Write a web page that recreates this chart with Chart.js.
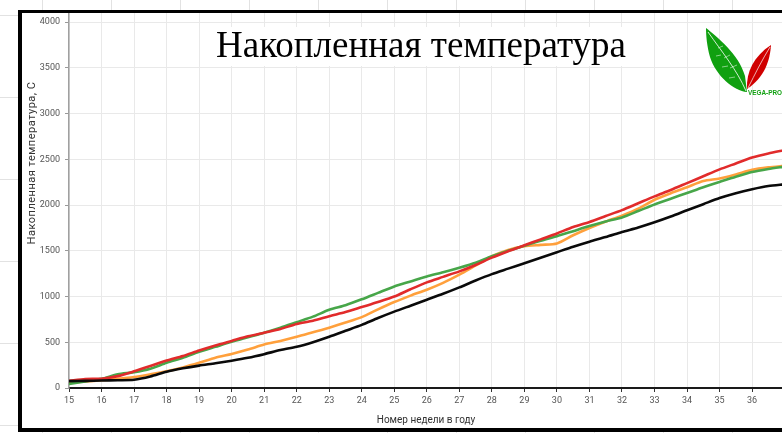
<!DOCTYPE html>
<html lang="ru">
<head>
<meta charset="UTF-8">
<title>Накопленная температура</title>
<script src="https://cdn.jsdelivr.net/npm/chart.js"></script>
<style>
  html, body { margin: 0; padding: 0; }
  body {
    width: 782px; height: 433px; overflow: hidden; position: relative;
    background-color: #fff;
    /* faint spreadsheet cells behind the picture */
    background-image:
      linear-gradient(to right, #e2e2e2 1px, transparent 1px),
      linear-gradient(to bottom, #e2e2e2 1px, transparent 1px);
    background-size: 69px 82px;
    background-position: 42px 15px;
  }
  #frame {
    position: absolute; left: 18px; top: 10px;
    width: 800px; height: 415px;
    border-left: 4px solid #000; border-top: 3px solid #000; border-bottom: 4px solid #000;
    background: #fff;
  }
  #wrap { position: relative; width: 761px; height: 415px; }
  #logo { position: absolute; left: 700px; top: 20px; width: 82px; height: 80px; }
</style>
</head>
<body>

<div id="frame"><div id="wrap"><canvas id="chart"></canvas></div></div>

<svg id="logo" viewBox="700 20 82 80" xmlns="http://www.w3.org/2000/svg">
  <!-- green leaf -->
  <path d="M706,28 C716,36 739,54 745,76 L747,92 C734,91 716,76 710,57 C707,46 706,36 706,28 Z" fill="#10a010"/>
  <path d="M708,32 C722,52 737,70 746,91" stroke="#e8f5e8" stroke-width="0.9" fill="none"/>
  <path d="M718,48 L723,46 M724,58 L730,55 M730,68 L737,65 M721,55 L716,56 M728,66 L722,67 M735,77 L729,78" stroke="#d8f0d8" stroke-width="0.6" fill="none"/>
  <!-- red leaf -->
  <path d="M747,89 C746,72 754,56 771,45 C770,60 765,77 747,89 Z" fill="#d00000"/>
  <path d="M748,88 C755,74 762,60 770,47" stroke="#f5dada" stroke-width="0.8" fill="none"/>
  <text x="748" y="95" font-family="Liberation Sans, Arial, sans-serif" font-weight="bold" font-size="7.5" fill="#10a010" textLength="34" lengthAdjust="spacingAndGlyphs">VEGA-PRO</text>
</svg>

<script>
// --- Daten: Woche im Jahr und Temperatursummen je Kurve ---
const weeks = [15, 15.5, 16, 16.5, 17, 17.5, 18, 18.5, 19, 19.5, 20, 20.5, 21, 21.5, 22, 22.5,
               23, 23.5, 24, 24.5, 25, 25.5, 26, 26.5, 27, 27.5, 28, 28.5, 29, 29.5, 30, 30.5,
               31, 31.5, 32, 32.5, 33, 33.5, 34, 34.5, 35, 35.5, 36, 36.5, 37];

const blackTemps  = [75, 78, 82, 85, 90, 125, 178, 215, 245, 270, 298, 330, 370, 415, 450, 500,
                     560, 625, 690, 765, 835, 900, 965, 1030, 1100, 1175, 1245, 1305, 1365, 1425, 1485, 1545,
                     1600, 1650, 1705, 1755, 1812, 1875, 1943, 2010, 2077, 2130, 2173, 2208, 2228];
const redTemps    = [80, 98, 102, 130, 182, 240, 300, 350, 410, 465, 515, 565, 605, 645, 700, 735,
                     785, 830, 885, 940, 1000, 1080, 1155, 1215, 1275, 1345, 1425, 1495, 1560, 1625, 1690, 1760,
                     1815, 1880, 1945, 2020, 2095, 2165, 2240, 2315, 2390, 2455, 2520, 2565, 2600];
const greenTemps  = [45, 72, 100, 150, 172, 210, 275, 330, 395, 450, 505, 555, 605, 660, 720, 780,
                     855, 905, 970, 1040, 1110, 1165, 1220, 1265, 1315, 1370, 1440, 1500, 1555, 1610, 1660, 1715,
                     1770, 1820, 1865, 1935, 2007, 2070, 2132, 2195, 2253, 2310, 2362, 2395, 2420];
const orangeTemps = [60, 72, 85, 100, 120, 150, 183, 225, 275, 330, 372, 420, 475, 515, 560, 610,
                     660, 715, 775, 860, 940, 1010, 1075, 1150, 1240, 1340, 1440, 1510, 1550, 1565, 1580, 1670,
                     1750, 1820, 1885, 1960, 2058, 2130, 2195, 2262, 2290, 2335, 2385, 2412, 2430];

const yTickValues = [0, 500, 1000, 1500, 2000, 2500, 3000, 3500, 4000];

const chartTitle = 'Накопленная температура';
const xTitle = 'Номер недели в году';
const yTitle = 'Накопленная температура, С';

const toPoints = vals => weeks.map((w, i) => ({ x: w, y: vals[i] }));

function lineSet(label, vals, color) {
    return {
        label: label,
        data: toPoints(vals),
        borderColor: color,
        backgroundColor: color,
        borderWidth: 2.6,
        pointRadius: 0,
        tension: 0.25,
        fill: false
    };
}

// Titel und gedrehte Y-Beschriftung selbst zeichnen
const decor = {
    id: 'decor',
    afterDraw(chart) {
        const ctx = chart.ctx;
        ctx.save();
        // Haupttitel mit weissem Kasten
        ctx.fillStyle = '#fff';
        ctx.fillRect(182, 14, 434, 39);
        ctx.fillStyle = '#000';
        ctx.font = '37px "Liberation Serif", "Times New Roman", serif';
        ctx.textAlign = 'center';
        ctx.textBaseline = 'alphabetic';
        ctx.fillText(chartTitle, 399, 44);
        // Y-Achsentitel
        ctx.translate(10, 150);
        ctx.rotate(-Math.PI / 2);
        ctx.fillStyle = '#333';
        ctx.font = '11px Roboto, sans-serif';
        ctx.letterSpacing = '0.5px';
        ctx.textBaseline = 'middle';
        ctx.fillText(yTitle, 0, 0);
        ctx.restore();
    }
};

const ctx = document.getElementById('chart').getContext('2d');
new Chart(ctx, {
    type: 'line',
    data: {
        datasets: [
            lineSet('Ряд 1', blackTemps, '#0a0a0a'),
            lineSet('Ряд 2', redTemps, '#e12b2b'),
            lineSet('Ряд 3', greenTemps, '#47a649'),
            lineSet('Ряд 4', orangeTemps, '#ffa03c')
        ]
    },
    options: {
        responsive: true,
        maintainAspectRatio: false,
        animation: false,
        layout: { padding: 0 },
        scales: {
            x: {
                type: 'linear',
                min: 15,
                max: 36.95,
                afterFit: s => { s.height = 40; s.paddingLeft = 0; s.paddingRight = 0; },
                ticks: {
                    stepSize: 1,
                    autoSkip: false,
                    maxRotation: 0,
                    includeBounds: false,
                    color: '#555',
                    font: { family: 'Roboto', size: 9 },
                    padding: 3,
                    callback: v => String(v)
                },
                grid: { color: '#e9e9e9', tickLength: 4, tickColor: '#333' },
                border: { color: '#1a1a1a', width: 2 },
                title: {
                    display: true,
                    text: xTitle,
                    color: '#333',
                    font: { family: 'Roboto', size: 10 },
                    padding: { top: 0, bottom: 2 }
                }
            },
            y: {
                min: 0,
                max: 4100,
                // keine Extra-Luft oben, damit die Gitterlinien bis zum Rahmen gehen
                afterFit: s => { s.width = 47; s.paddingTop = 0; s.paddingBottom = 0; },
                afterBuildTicks: s => { s.ticks = yTickValues.map(v => ({ value: v })); },
                ticks: {
                    color: '#555',
                    font: { family: 'Roboto', size: 9 },
                    padding: 5,
                    callback: v => String(v)
                },
                grid: { color: '#e9e9e9', tickLength: 4, tickColor: '#999' },
                border: { color: '#a0a0a0', width: 1.5 }
            }
        },
        plugins: {
            legend: { display: false },
            tooltip: { enabled: false }
        }
    },
    plugins: [decor]
});
</script>

</body>
</html>
